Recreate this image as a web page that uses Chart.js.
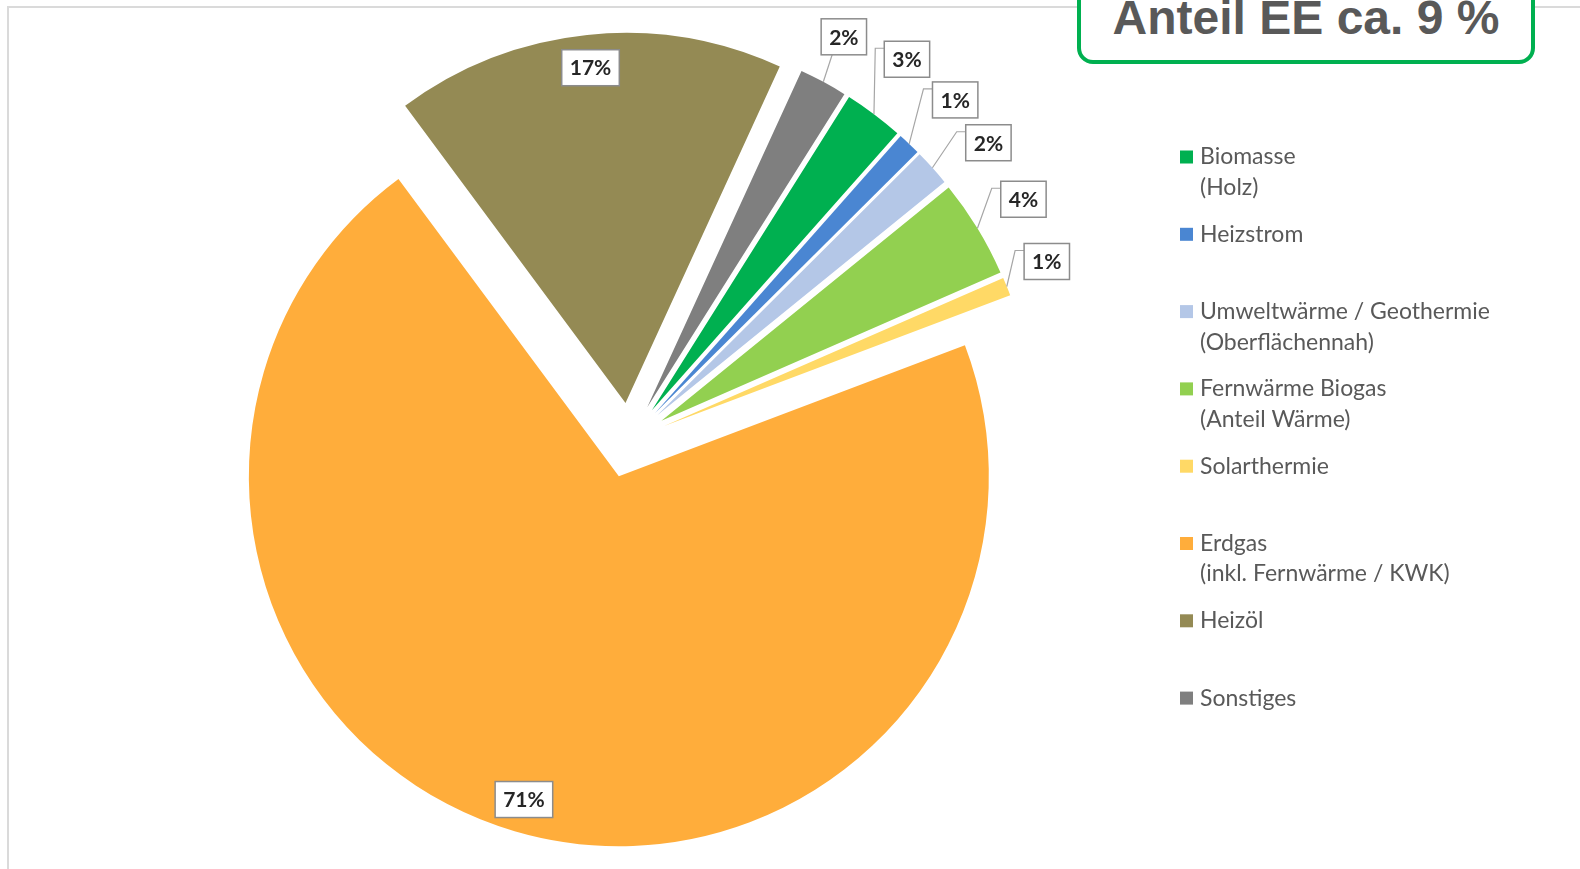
<!DOCTYPE html>
<html lang="de">
<head>
<meta charset="utf-8">
<title>Wärmeversorgung nach Energieträgern</title>
<script src="https://cdn.jsdelivr.net/npm/chart.js@4.4.1/dist/chart.umd.min.js"></script>
<style>
  html, body { margin: 0; padding: 0; background: #fff; }
  #wrap { position: relative; width: 1580px; height: 869px; overflow: hidden; }
  #frame {
    position: absolute; left: 7px; top: 6px; right: -10px; bottom: -10px;
    border-left: 2px solid #dadada; border-top: 2px solid #dadada;
  }
  #chartBox { position: absolute; left: 0; top: 0; width: 1580px; height: 869px; }
  #eeBadge {
    position: absolute; left: 1077px; top: -30px; width: 458px; height: 94px;
    box-sizing: border-box; border: 4px solid #00b050; border-radius: 16px; background: #fff;
    font: bold 48px 'Liberation Sans', Arial, sans-serif; color: #595959;
    text-align: center; line-height: 46px; padding-top: 21px; white-space: nowrap;
  }
</style>
</head>
<body>
<div id="wrap">
  <div id="frame"></div>
  <div id="chartBox"><canvas id="heatPie"></canvas></div>
  <div id="eeBadge">Anteil EE ca. 9 %</div>
</div>
<script>
// Energy carriers, clockwise from Biomasse
const categories = [
  ['Biomasse', '(Holz)'],
  ['Heizstrom'],
  ['Umweltwärme / Geothermie', '(Oberflächennah)'],
  ['Fernwärme Biogas', '(Anteil Wärme)'],
  ['Solarthermie'],
  ['Erdgas', '(inkl. Fernwärme / KWK)'],
  ['Heizöl'],
  ['Sonstiges']
];
// share of heat supply in percent
const shares = [2.6, 1.0, 1.6, 4.3, 0.8, 70.6, 17.0, 2.1];
const sliceColors = ['#00b050', '#4a86d2', '#b4c7e7', '#92d050', '#ffd966', '#ffad3b', '#948a54', '#7f7f7f'];

// 'inside' = box near the rim on the slice, else [dx, dy] of the box centre from the rim point
const labelPlacement = [[33, -55], [46, -44], [56, -25], [46, -29], [40, -25], 'inside', 'inside', [20.5, -45]];

const EXPLODE = 37.5;   // px every slice is pushed out from the centre
const PIE_RADIUS = 370;

// Excel-style explosion: move each arc's centre outwards along its bisector,
// keeping the radius (the built-in offset option also grows the radius)
const explodeSlices = {
    id: 'explodeSlices',
    afterDatasetUpdate(chart, args) {
        chart.getDatasetMeta(args.index).data.forEach(arc => {
            const mid = (arc.startAngle + arc.endAngle) / 2;
            arc.x += Math.cos(mid) * EXPLODE;
            arc.y += Math.sin(mid) * EXPLODE;
        });
    }
};

const percentLabels = {
    id: 'percentLabels',
    afterDatasetsDraw(chart) {
        const { ctx } = chart;
        const data = chart.data.datasets[0].data;
        const total = data.reduce((a, b) => a + b, 0);
        const arcs = chart.getDatasetMeta(0).data;
        ctx.save();
        ctx.font = 'bold 21px Lato, "Noto Sans", sans-serif';
        ctx.textAlign = 'center';
        ctx.textBaseline = 'middle';
        arcs.forEach((arc, i) => {
            const mid = (arc.startAngle + arc.endAngle) / 2;
            const r = arc.outerRadius;
            const text = Math.round(data[i] / total * 100) + '%';
            const w = ctx.measureText(text).width + 16;
            const h = 36;
            let bx, by;
            const place = labelPlacement[i];
            if (place === 'inside') {
                bx = arc.x + Math.cos(mid) * (r - 33);
                by = arc.y + Math.sin(mid) * (r - 33);
            } else {
                const ax = arc.x + Math.cos(mid) * r;
                const ay = arc.y + Math.sin(mid) * r;
                bx = ax + place[0];
                by = ay + place[1];
                const left = bx - w / 2, top = by - h / 2;
                ctx.strokeStyle = '#a6a6a6';
                ctx.lineWidth = 1.2;
                ctx.beginPath();
                ctx.moveTo(ax, ay);
                if (ax > left - 9) {
                    ctx.lineTo(left + 11, top + h);
                } else {
                    ctx.lineTo(left - 9, top + 7);
                    ctx.lineTo(left, top + 7);
                }
                ctx.stroke();
            }
            ctx.fillStyle = '#ffffff';
            ctx.strokeStyle = '#8c8c8c';
            ctx.lineWidth = 1.5;
            ctx.fillRect(bx - w / 2, by - h / 2, w, h);
            ctx.strokeRect(bx - w / 2, by - h / 2, w, h);
            ctx.fillStyle = '#262626';
            ctx.fillText(text, bx, by + 1);
        });
        ctx.restore();
    }
};

// legend on the right, one slot per carrier, second line for the note in brackets
const sideLegend = {
    id: 'sideLegend',
    afterDraw(chart) {
        const { ctx } = chart;
        const labels = chart.data.labels;
        const colors = chart.data.datasets[0].backgroundColor;
        ctx.save();
        ctx.font = '23px Lato, "Noto Sans", sans-serif';
        ctx.textBaseline = 'middle';
        ctx.textAlign = 'left';
        labels.forEach((lines, i) => {
            const y = 157 + i * 77.3;
            ctx.fillStyle = colors[i];
            ctx.fillRect(1180, y - 6.5, 13, 13);
            ctx.fillStyle = '#595959';
            lines.forEach((line, j) => ctx.fillText(line, 1200, y + j * 30.5));
        });
        ctx.restore();
    }
};

new Chart(document.getElementById('heatPie'), {
    type: 'pie',
    data: {
        labels: categories,
        datasets: [{
            data: shares,
            backgroundColor: sliceColors,
            borderWidth: 0,
            clip: false
        }]
    },
    options: {
        responsive: true,
        maintainAspectRatio: false,
        animation: false,
        events: [],
        rotation: 32.2,
        radius: PIE_RADIUS,
        layout: { padding: { left: 0, right: 321.2, top: 11.4, bottom: 0 } },
        plugins: { legend: { display: false }, tooltip: { enabled: false } }
    },
    plugins: [explodeSlices, percentLabels, sideLegend]
});
</script>
</body>
</html>
